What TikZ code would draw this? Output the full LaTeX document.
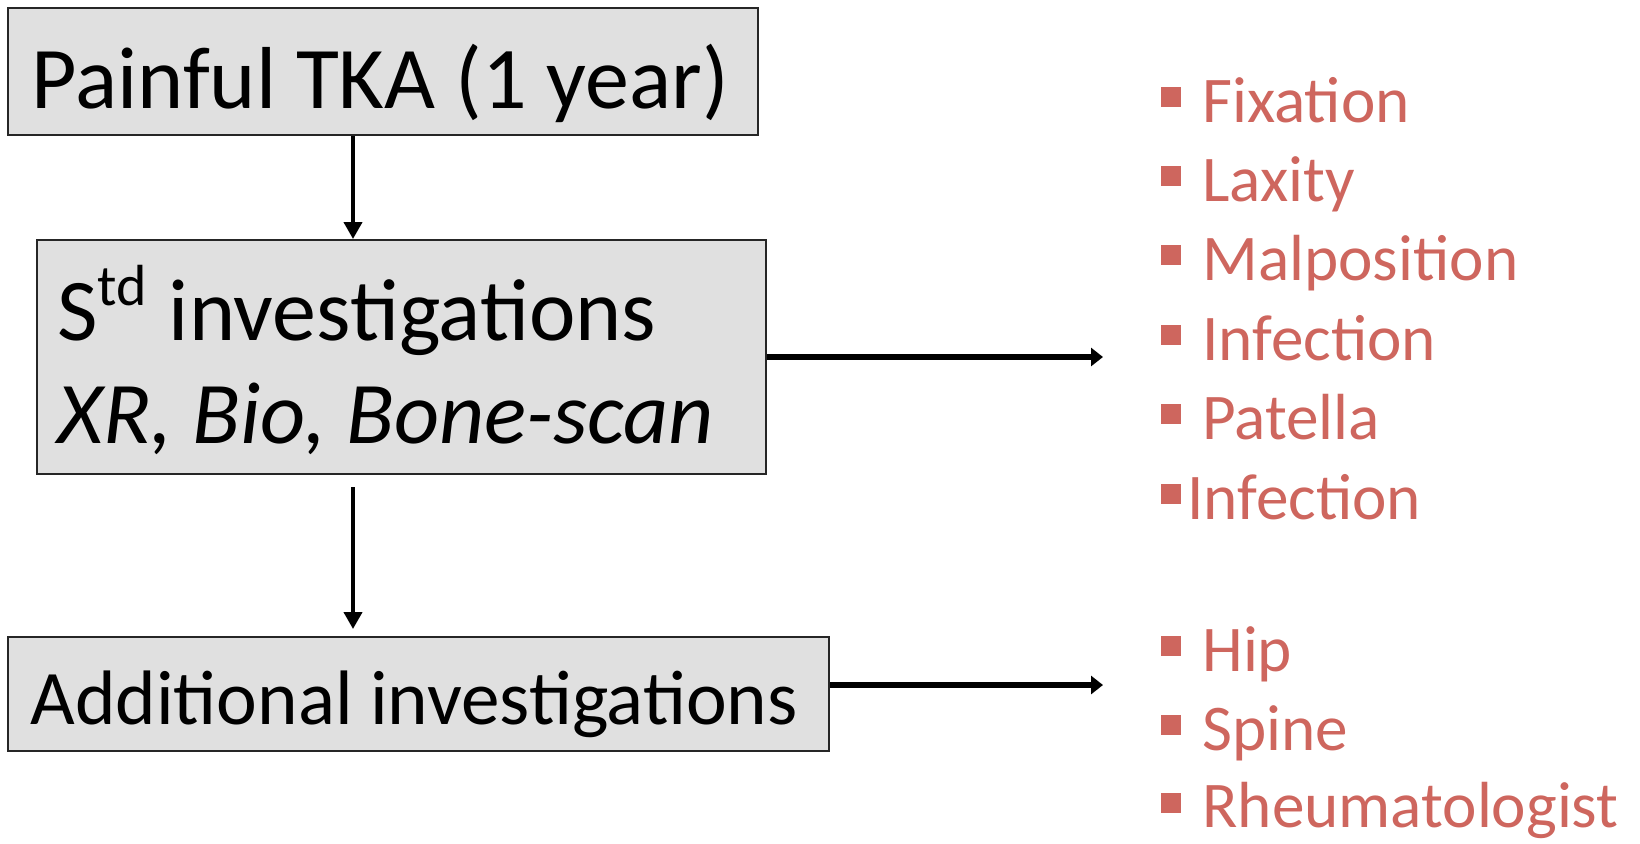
\documentclass[tikz,border=0pt]{standalone}
\usepackage{fontspec}
\setmainfont{Carlito}
\usetikzlibrary{arrows.meta}

\definecolor{boxgray}{RGB}{224,224,224}
\definecolor{itemred}{RGB}{206,102,94}

\tikzset{
  box/.style={draw=black!85, line width=1pt, fill=boxgray, inner sep=0pt},
  bigtext/.style={anchor=base west, inner sep=0pt, font=\fontsize{44}{51}\selectfont},
  midtext/.style={anchor=base west, inner sep=0pt, font=\fontsize{38.6}{44}\selectfont},
  itemtext/.style={anchor=base west, inner sep=0pt, text=itemred, font=\fontsize{32.6}{38}\selectfont},
  bulletsq/.style={fill=itemred, inner sep=0pt, minimum size=10pt},
  downarrow/.style={line width=2pt, -{Triangle[length=8.5pt,width=9pt]}},
  rightarrow/.style={line width=3pt, -{Triangle[length=6pt,width=9pt]}}
}

\begin{document}
\begin{tikzpicture}[x=0.5pt,y=-0.5pt]
    \useasboundingbox (0,0) rectangle (1640,843);

    % Boxes
    \node[box, minimum width=375pt, minimum height=63.5pt] (pain) at (383,71.5) {};
    \node[box, minimum width=364.5pt, minimum height=117pt] (std) at (401.5,357) {};
    \node[box, minimum width=410.5pt, minimum height=57pt] (add) at (418.5,694) {};

    % Box texts
    \node[bigtext] (paintxt) at (31,108) {Painful TKA (1 year)};
    \node[bigtext] (stdtxt) at (57,340) {S\raisebox{17.5pt}{\fontsize{29}{29}\selectfont td}\hspace{1pt} investigations};
    \node[bigtext] (invtxt) at (57,443) {\itshape XR, Bio, Bone-scan};
    \node[midtext] (addtxt) at (30,724) {Additional investigations};

    % Arrows
    \coordinate (axis) at (353,0);
    \coordinate (stdend) at (1103,357);
    \coordinate (addend) at (1103,685);
    \draw[downarrow] (axis |- pain.south) -- (axis |- std.north);
    \draw[downarrow, shorten <=6pt, shorten >=3.5pt] (axis |- std.south) -- (axis |- add.north);
    \draw[rightarrow] (std.east) -- (stdend);
    \draw[rightarrow] (add.east |- addend) -- (addend);

    % Findings of standard investigations
    \node[bulletsq] (b1) at (1171,97) {};
    \node[itemtext] (fix) at (1202,122) {Fixation};
    \node[bulletsq] (b2) at (1171,176) {};
    \node[itemtext] (lax) at (1202,201) {Laxity};
    \node[bulletsq] (b3) at (1171,255) {};
    \node[itemtext] (mal) at (1202,280) {Malposition};
    \node[bulletsq] (b4) at (1171,335) {};
    \node[itemtext] (inf) at (1202,360) {Infection};
    \node[bulletsq] (b5) at (1171,414) {};
    \node[itemtext] (pat) at (1202,439) {Patella};
    \node[bulletsq] (b6) at (1171,494) {};
    \node[itemtext] (infb) at (1187,519) {Infection};

    % Findings of additional investigations
    \node[bulletsq] (b7) at (1171,646) {};
    \node[itemtext] (hip) at (1202,671) {Hip};
    \node[bulletsq] (b8) at (1171,725) {};
    \node[itemtext] (spine) at (1202,750) {Spine};
    \node[bulletsq] (b9) at (1171,803) {};
    \node[itemtext] (rheum) at (1202,827) {Rheumatologist};
\end{tikzpicture}
\end{document}
